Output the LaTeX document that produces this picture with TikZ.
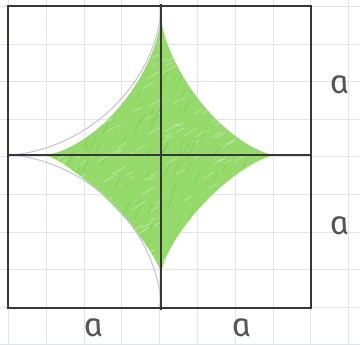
\documentclass[tikz,border=0pt]{standalone}
\usepackage{fontspec}
\newfontfamily\handfont{Fira Sans}[ItalicFeatures={FakeSlant=-0.2}]
\definecolor{gridc}{RGB}{226,228,232}
\definecolor{inkc}{RGB}{55,55,55}
\definecolor{greenc}{RGB}{150,218,108}
\definecolor{greendk}{RGB}{110,200,70}
\definecolor{outc}{RGB}{195,195,210}
\definecolor{labc}{RGB}{85,85,85}
\tikzset{
  gridline/.style={draw=gridc, line width=0.8pt},
  inkline/.style={draw=inkc, line width=1.8pt},
  outline/.style={draw=outc, line width=1pt},
  hatchlight/.style={draw=white, line width=0.8pt, opacity=0.35},
  hatchdark/.style={draw=greendk, line width=1pt, opacity=0.45},
  lab/.style={text=labc, font=\handfont\itshape\fontsize{33}{33}\selectfont, inner sep=0pt}
}
\newcommand{\mystarpath}{%
  ({\cx+\Rr},\cy)
  -- plot[domain=1:89,samples=40,variable=\t] ({\cx+\Rr*pow(cos(\t),2.9)},{\cy-\Rt*pow(sin(\t),2.9)})
  -- (\cx,{\cy-\Rt})
  -- plot[domain=1:89,samples=40,variable=\t] ({\cx-\Rl*pow(sin(\t),3)},{\cy-\Rt*pow(cos(\t),3)})
  -- ({\cx-\Rl},\cy)
  -- plot[domain=1:89,samples=40,variable=\t] ({\cx-\Rl*pow(cos(\t),2.5)},{\cy+\Rb*pow(sin(\t),2.5)})
  -- (\cx,{\cy+\Rb})
  -- plot[domain=1:89,samples=40,variable=\t] ({\cx+\Rr*pow(sin(\t),2.7)},{\cy+\Rb*pow(cos(\t),2.7)})
  -- cycle}
\begin{document}
\begin{tikzpicture}[x=1pt,y=-1pt]
\useasboundingbox (0,0) rectangle (360,345);
\fill[white] (0,0) rectangle (360,345);
% grid
\foreach \i in {0,...,9} {
  \draw[gridline] ({8.5+37.8*\i},0) -- ({8.5+37.8*\i},345);
  \draw[gridline] (0,{6.5+37.6*\i}) -- (360,{6.5+37.6*\i});
}
% green star fill (per quadrant)
\def\cx{161}\def\cy{155}
\def\Rr{114}\def\Rt{138}\def\Rl{116}\def\Rb{118}
\fill[greenc] \mystarpath;
% pencil texture
\begin{scope}
  \clip \mystarpath;
  \pgfmathsetseed{7}
  \foreach \k in {1,...,260} {
    \pgfmathsetmacro{\px}{45+rnd*232}
    \pgfmathsetmacro{\py}{15+rnd*262}
    \pgfmathsetmacro{\pl}{4+rnd*10}
    \draw[hatchlight] (\px,\py) -- ++(\pl,-\pl*0.6);
  }
  \foreach \k in {1,...,160} {
    \pgfmathsetmacro{\px}{45+rnd*232}
    \pgfmathsetmacro{\py}{15+rnd*262}
    \pgfmathsetmacro{\pl}{4+rnd*12}
    \draw[hatchdark] (\px,\py) -- ++(\pl*0.5,-\pl);
  }
\end{scope}
% faint pencil outline on the left half
\draw[outline]
  (159,8)
  -- plot[domain=1:89,samples=40,variable=\t] ({\cx-153*pow(sin(\t),3.3)},{\cy-147*pow(cos(\t),3.3)})
  -- (9,\cy)
  -- plot[domain=1:89,samples=40,variable=\t] ({\cx-153*pow(cos(\t),3.3)},{\cy+150*pow(sin(\t),3.3)})
  -- (158,306);
% square and axes
\coordinate (tl) at (8,6);
\coordinate (br) at (311,308);
\coordinate (ml) at (8,155);
\coordinate (mr) at (311,155);
\coordinate (mt) at (161,4);
\coordinate (mb) at (161,310);
\draw[inkline] (tl) rectangle (br);
\draw[inkline] (ml) -- (mr);
\draw[inkline] (mt) -- (mb);
% labels
\node[lab] (a1) at (341,85) {a};
\node[lab] (a2) at (341,226) {a};
\node[lab] (a3) at (95,328) {a};
\node[lab] (a4) at (243,328) {a};
\end{tikzpicture}
\end{document}
